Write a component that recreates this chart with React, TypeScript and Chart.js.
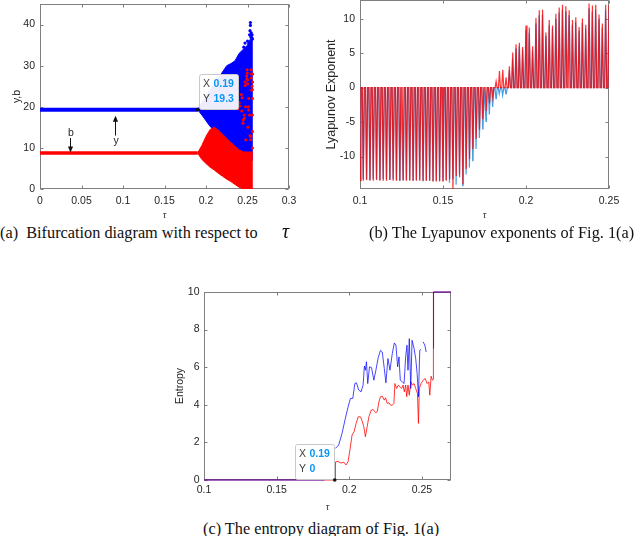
import React, { useEffect, useRef } from 'react';
import { Chart, registerables } from 'chart.js';

Chart.register(...registerables);

const SANS = "'Liberation Sans', Arial, Helvetica, sans-serif";
const SERIF = "'Liberation Serif', 'Times New Roman', serif";
const INK = '#262626';
const FRAME = '#7f7f7f';

// ---------------- (a) Bifurcation diagram ----------------
const bifTicksX = [0, 0.05, 0.1, 0.15, 0.2, 0.25, 0.3];
const bifTicksY = [0, 10, 20, 30, 40];
const bifSteadyTau = [0, 0.19];
const bifSteadyY = [19.3, 19.3];
const bifSteadyB = [8.75, 8.75];
const bifBandTau = [0.19, 0.195, 0.2, 0.205, 0.21, 0.215, 0.22, 0.225, 0.23, 0.235, 0.24, 0.245, 0.25, 0.2535, 0.2565];
const bifYUpper = [19.3, 21.0, 22.5, 24.0, 25.5, 27.0, 28.5, 30.0, 30.5, 31.2, 33.0, 34.0, 35.0, 36.5, 36.0];
const bifYLower = [19.3, 18.0, 16.6, 15.2, 14.2, 13.4, 12.6, 11.8, 11.0, 10.2, 9.4, 8.2, 7.5, 7.0, 7.0];
const bifBUpper = [8.8, 10.6, 12.8, 14.5, 15.0, 14.3, 13.3, 12.3, 11.3, 10.4, 9.5, 9.0, 9.0, 9.0, 9.0];
const bifBLower = [8.7, 7.2, 6.2, 5.3, 4.6, 3.8, 3.1, 2.4, 1.8, 1.1, 0.4, 0, 0, 0, 0];
const bifYDotTau = [0.2455, 0.247, 0.248, 0.25, 0.2515, 0.2525, 0.253, 0.2535, 0.2535, 0.254, 0.2545, 0.255, 0.2555, 0.256];
const bifYDotVal = [34.5, 35.5, 33.8, 36.0, 35.5, 37.5, 38.5, 40.5, 39.8, 37.0, 38.0, 36.8, 37.5, 36.5];
const bifBDotTau = [
  0.2385, 0.24, 0.2405, 0.2425, 0.243, 0.2435, 0.2445, 0.2448, 0.246, 0.2463, 0.247, 0.2472, 0.2475, 0.248,
  0.249, 0.2492, 0.2495, 0.2497, 0.25, 0.2502, 0.2505, 0.251, 0.2513, 0.2515, 0.2525, 0.253, 0.2538, 0.254,
  0.2545, 0.2545, 0.2548, 0.255, 0.2555, 0.2558, 0.256, 0.256, 0.256, 0.256, 0.2562, 0.2562,
];
const bifBDotVal = [
  19.5, 21, 20.2, 23, 19, 22.2, 16, 16.8, 18, 17.2, 26, 25.2, 20, 12,
  27.5, 26.8, 29, 28.2, 26.5, 25.6, 15, 20, 19.2, 22, 18, 13, 12, 12.8,
  29, 27, 28, 24, 25, 24.2, 14, 18, 22, 10, 28, 26,
];
const bifNoteLabels = ['b', 'y'];
const bifNoteTau = [0.0367, 0.0905];
const bifNoteTextY = [13.6, 11.6];
const bifNoteFrom = [12.4, 13.0];
const bifNoteTo = [8.9, 17.8];

// ---------------- (b) Lyapunov exponents ----------------
const lyapTicksX = [0.1, 0.15, 0.2, 0.25];
const lyapTicksY = [-10, -5, 0, 5, 10];
const lyapTau = [
  0.100, 0.102, 0.104, 0.106, 0.108, 0.110, 0.112, 0.114, 0.116, 0.118,
  0.120, 0.122, 0.124, 0.126, 0.128, 0.130, 0.132, 0.134, 0.136, 0.138,
  0.140, 0.142, 0.144, 0.146, 0.148, 0.150, 0.152, 0.154, 0.156, 0.158,
  0.160, 0.162, 0.164, 0.166, 0.168, 0.170, 0.172, 0.174, 0.176, 0.178,
  0.180, 0.182, 0.184, 0.186, 0.188, 0.190, 0.192, 0.194, 0.196, 0.198,
  0.200, 0.202, 0.204, 0.206, 0.208, 0.210, 0.212, 0.214, 0.216, 0.218,
  0.220, 0.222, 0.224, 0.226, 0.228, 0.230, 0.232, 0.234, 0.236, 0.238,
  0.240, 0.242, 0.244, 0.246, 0.248, 0.250,
];
const lyapRed = [
  -13.5, -13.5, -13.4, -13.5, -13.5, -13.4, -13.5, -13.5, -13.5, -13.4,
  -13.5, -13.5, -13.5, -13.4, -13.5, -13.5, -13.5, -13.5, -13.5, -13.5,
  -13.5, -13.5, -13.6, -13.6, -13.6, -13.6, -13.5, -13.3, -14.9, -12.8,
  -13.0, -14.0, -11.8, -10.4, -8.9, -7.4, -6.1, -4.6, -3.4, -2.3,
  -1.4, 0.9, 2.4, 2.6, 1.5, 3.1, 5.1, 6.3, 6.5, 5.9,
  9.0, 8.7, 6.0, 10.1, 11.2, 11.3, 8.0, 9.8, 9.0, 10.7,
  11.6, 12.0, 11.8, 11.2, 9.8, 10.2, 8.8, 10.0, 9.1, 12.2,
  11.9, 12.0, 10.6, 9.3, 12.0, 11.9,
];
const lyapBlue = [
  -13.3, -13.3, -13.3, -13.3, -13.3, -13.3, -13.3, -13.3, -13.3, -13.3,
  -13.3, -13.4, -13.4, -13.4, -13.4, -13.4, -13.4, -13.4, -13.4, -13.5,
  -13.5, -13.5, -13.5, -13.5, -13.5, -13.5, -13.4, -13.8, -13.2, -14.1,
  -12.6, -14.2, -12.6, -11.6, -10.6, -8.9, -7.3, -6.0, -4.9, -3.9,
  -2.8, -1.6, -0.9, -1.1, -0.9, 2.5, 4.2, 5.6, 6.0, 5.5,
  8.3, 8.0, 5.4, 9.2, 10.5, 10.6, 7.4, 9.0, 8.6, 9.9,
  10.9, 11.3, 11.0, 10.4, 9.1, 9.5, 8.2, 9.4, 8.6, 11.4,
  11.0, 11.3, 9.9, 8.7, 11.2, 11.1,
];

// ---------------- (c) Entropy ----------------
const entTicksX = [0.1, 0.15, 0.2, 0.25];
const entTicksY = [0, 2, 4, 6, 8, 10];
const entBlueTau = [
  0.1, 0.183, 0.186, 0.1904, 0.1927, 0.195, 0.1973, 0.1992, 0.2008, 0.2024,
  0.2038, 0.2049, 0.2065, 0.2081, 0.2095, 0.2104, 0.2111, 0.2118, 0.2127, 0.2139,
  0.2153, 0.2169, 0.2183, 0.2199, 0.2215, 0.2227, 0.2241, 0.2252, 0.2266, 0.228,
  0.2296, 0.231, 0.2321, 0.2333, 0.2342, 0.2351, 0.2365, 0.2377, 0.2388, 0.2397,
  0.2404, 0.2413, 0.2423, 0.2432, 0.2446, 0.2457, 0.2467, 0.2476, 0.2485, 0.2494,
  0.25, 0.2508, 0.252, 0.2529, 0.255, 0.2579, 0.258, 0.27,
];
const entBlueVal = [
  0, 0, null, 1.68, 1.86, 2.48, 3.28, 3.9, 4.34, 4.34,
  5.13, 5.17, 4.78, 4.69, 5.05, 6.06, 5.84, 6.29, 5.13, 6.02,
  5.98, 5.31, 5.84, 6.51, 6.9, 6.81, 5.93, 5.17, 6.46, 5.84,
  6.73, 7.29, 7.17, 6.02, 6.55, 5.31, 5.22, 5.13, 6.55, 7.17,
  5.84, 7.52, 4.87, 7.43, 6.99, 6.46, 5.66, 4.43, 6.9, 6.95,
  null, 7.35, 7.17, 6.81, null, 7.0, 10, 10,
];
const entRedTau = [
  0.1, 0.1904, 0.1905, 0.1922, 0.1943, 0.1962, 0.1978, 0.1992, 0.2006, 0.2019,
  0.2033, 0.2047, 0.2061, 0.2077, 0.2088, 0.21, 0.2111, 0.2123, 0.2135, 0.2151,
  0.2164, 0.2181, 0.2192, 0.2204, 0.2215, 0.2227, 0.2241, 0.225, 0.2261, 0.2273,
  0.2284, 0.2296, 0.2307, 0.2314, 0.2326, 0.2337, 0.2349, 0.236, 0.237, 0.2379,
  0.2388, 0.2395, 0.2404, 0.2413, 0.2423, 0.2434, 0.2446, 0.2457, 0.2469, 0.2476,
  0.2482, 0.2494, 0.2508, 0.2522, 0.2536, 0.2547, 0.2554, 0.2563, 0.2572, 0.2578,
  0.2579, 0.27,
];
const entRedVal = [
  0, 0, 0.96, 0.99, 0.9, 0.95, 0.8, 0.99, 1.68, 2.39,
  2.57, 3.01, 3.36, 3.36, 3.15, 2.83, 2.3, 2.83, 3.36, 3.72,
  3.75, 3.58, 3.63, 4.16, 4.43, 4.46, 4.25, 4.37, 4.07, 4.11,
  3.98, 3.98, 4.07, 5.13, 4.87, 5.05, 4.96, 4.87, 5.05, 4.69,
  5.05, 4.43, 5.05, 4.51, 5.22, 5.05, 5.13, 4.87, 4.6, 3.01,
  4.87, 5.13, 5.31, 5.4, 5.13, 5.22, 4.51, 5.52, 5.31, 5.35,
  10, 10,
];

const pts = (xs: number[], ys: (number | null)[]) => xs.map((x, i) => ({ x, y: ys[i] }));

// -------- plugins --------
const framePlugin = {
  id: 'matFrame',
  beforeDatasetsDraw(chart: any) {
    const { ctx, chartArea: a, scales } = chart;
    const L = Math.round(a.left) + 0.5;
    const R = Math.round(a.right) - 0.5;
    const T = Math.round(a.top) + 0.5;
    const B = Math.round(a.bottom) - 0.5;
    ctx.save();
    ctx.strokeStyle = FRAME;
    ctx.lineWidth = 1;
    ctx.strokeRect(L, T, R - L, B - T);
    ctx.beginPath();
    for (const t of scales.x.ticks) {
      const px = Math.round(scales.x.getPixelForValue(t.value)) + 0.5;
      ctx.moveTo(px, B); ctx.lineTo(px, B - 3);
      ctx.moveTo(px, T); ctx.lineTo(px, T + 3);
    }
    for (const t of scales.y.ticks) {
      const py = Math.round(scales.y.getPixelForValue(t.value)) + 0.5;
      ctx.moveTo(L, py); ctx.lineTo(L + 3, py);
      ctx.moveTo(R, py); ctx.lineTo(R - 3, py);
    }
    ctx.stroke();
    ctx.restore();
  },
};

const tipPlugin = {
  id: 'dataTip',
  afterDatasetsDraw(chart: any, _a: any, opts: any) {
    if (!opts || opts.x === undefined) return;
    const { ctx, scales } = chart;
    const px = scales.x.getPixelForValue(opts.x);
    const py = scales.y.getPixelForValue(opts.y);
    const w = 39, h = 35;
    const bx = Math.round(opts.side === 'right' ? px + 1 : px - w - 0.5) + 0.5;
    const by = Math.round(py - h - 1) + 0.5;
    ctx.save();
    ctx.fillStyle = 'rgba(255,255,255,0.93)';
    ctx.strokeStyle = '#c8c8c8';
    ctx.lineWidth = 1;
    ctx.beginPath();
    ctx.roundRect(bx, by, w, h, 2);
    ctx.fill();
    ctx.stroke();
    ctx.textBaseline = 'middle';
    ctx.textAlign = 'left';
    ctx.font = `10.5px ${SANS}`;
    ctx.fillStyle = '#404040';
    ctx.fillText('X', bx + 3.5, by + 10);
    ctx.fillText('Y', bx + 3.5, by + 25);
    ctx.font = `bold 10.5px ${SANS}`;
    ctx.fillStyle = '#0a96f5';
    ctx.fillText(opts.xText, bx + 14, by + 10);
    ctx.fillText(opts.yText, bx + 14, by + 25);
    ctx.fillStyle = '#111';
    ctx.beginPath();
    ctx.arc(px, py, 1.8, 0, Math.PI * 2);
    ctx.fill();
    ctx.restore();
  },
};

const notePlugin = {
  id: 'arrowNotes',
  afterDatasetsDraw(chart: any, _a: any, opts: any) {
    if (!opts || !opts.labels) return;
    const { ctx, scales } = chart;
    ctx.save();
    ctx.strokeStyle = '#111';
    ctx.lineWidth = 1;
    ctx.font = `10.5px ${SANS}`;
    ctx.textAlign = 'center';
    ctx.textBaseline = 'middle';
    opts.labels.forEach((lab: string, i: number) => {
      const px = Math.round(scales.x.getPixelForValue(opts.tau[i])) + 0.5;
      ctx.fillStyle = INK;
      ctx.fillText(lab, px + 0.5, scales.y.getPixelForValue(opts.textY[i]));
      const y0 = scales.y.getPixelForValue(opts.from[i]);
      const y1 = scales.y.getPixelForValue(opts.to[i]);
      const dir = y1 > y0 ? 1 : -1;
      ctx.beginPath();
      ctx.moveTo(px, y0);
      ctx.lineTo(px, y1 - dir * 4);
      ctx.stroke();
      ctx.fillStyle = '#111';
      ctx.beginPath();
      ctx.moveTo(px, y1);
      ctx.lineTo(px - 2.6, y1 - dir * 6);
      ctx.lineTo(px + 2.6, y1 - dir * 6);
      ctx.closePath();
      ctx.fill();
    });
    ctx.restore();
  },
};

// -------- axes helpers --------
function xAxis(min: number, max: number, ticks: number[], height: number, pad: number) {
  return {
    type: 'linear', position: 'bottom', min, max,
    afterBuildTicks: (s: any) => { s.ticks = ticks.map((v) => ({ value: v })); },
    afterFit: (s: any) => { s.height = height; s.paddingLeft = 0; s.paddingRight = 0; },
    grid: { display: false, drawTicks: false },
    border: { display: false },
    ticks: { color: INK, font: { family: SANS, size: 10.5 }, padding: pad, maxRotation: 0, autoSkip: false, callback: (v: any) => String(v) },
    title: { display: true, text: 'τ', color: INK, font: { family: SERIF, size: 10, style: 'italic', lineHeight: 1.2 }, padding: { top: 0, bottom: 0 } },
  };
}

function yAxis(min: number, max: number, ticks: number[], width: number, pad: number, text: string, size: number, titlePad: number) {
  return {
    type: 'linear', position: 'left', min, max,
    afterBuildTicks: (s: any) => { s.ticks = ticks.map((v) => ({ value: v })); },
    afterFit: (s: any) => { s.width = width; s.paddingTop = 0; s.paddingBottom = 0; },
    grid: { display: false, drawTicks: false },
    border: { display: false },
    ticks: { color: INK, font: { family: SANS, size: 10.5 }, padding: pad, autoSkip: false, callback: (v: any) => String(v) },
    title: { display: true, text, color: INK, font: { family: SANS, size, lineHeight: 1.2 }, padding: { top: titlePad, bottom: 0 } },
  };
}

const baseOptions = (padding: any, scales: any, plugins: any) => ({
  responsive: false,
  animation: false,
  devicePixelRatio: 1,
  events: [],
  layout: { padding },
  scales,
  elements: { point: { radius: 0 }, line: { tension: 0 } },
  plugins: { legend: { display: false }, tooltip: { enabled: false }, ...plugins },
});

// -------- chart configs --------
function bifConfig(): any {
  const BLUE = '#0000ff';
  const RED = '#ff0000';
  return {
    type: 'line',
    data: {
      datasets: [
        { data: pts(bifSteadyTau, bifSteadyY), borderColor: BLUE, borderWidth: 4, order: 0 },
        { data: pts(bifSteadyTau, bifSteadyB), borderColor: RED, borderWidth: 3.5, order: 0 },
        { data: pts(bifBandTau, bifYUpper), borderColor: BLUE, borderWidth: 1, fill: false, order: 3 },
        { data: pts(bifBandTau, bifYLower), borderColor: BLUE, borderWidth: 1, fill: '-1', backgroundColor: BLUE, order: 3 },
        { data: pts(bifBandTau, bifBUpper), borderColor: RED, borderWidth: 1, fill: false, order: 2 },
        { data: pts(bifBandTau, bifBLower), borderColor: RED, borderWidth: 1, fill: '-1', backgroundColor: RED, order: 2 },
        { data: pts(bifYDotTau, bifYDotVal), showLine: false, pointRadius: 1.6, pointBorderWidth: 0, pointBackgroundColor: BLUE, order: 1 },
        { data: pts(bifBDotTau, bifBDotVal), showLine: false, pointRadius: 1.5, pointBorderWidth: 0, pointBackgroundColor: RED, order: 1 },
      ],
    },
    options: baseOptions(
      { left: 0, top: 0, right: 11, bottom: 0 },
      { x: xAxis(0, 0.3, bifTicksX, 32, 6), y: yAxis(0, 45, bifTicksY, 40, 5, 'y,b', 10.5, 10.7) },
      {
        dataTip: { x: 0.19, y: 19.3, xText: '0.19', yText: '19.3', side: 'right' },
        arrowNotes: { labels: bifNoteLabels, tau: bifNoteTau, textY: bifNoteTextY, from: bifNoteFrom, to: bifNoteTo },
      }
    ),
    plugins: [framePlugin, tipPlugin, notePlugin],
  };
}

function lyapConfig(): any {
  const red = lyapTau.flatMap((t, i) => [{ x: t - 0.0006, y: 0 }, { x: t, y: lyapRed[i] }, { x: t + 0.0006, y: 0 }]);
  const blue = lyapTau.flatMap((t, i) => [{ x: t - 0.0007, y: 0 }, { x: t - 0.0001, y: lyapBlue[i] }, { x: t + 0.0001, y: lyapBlue[i] }, { x: t + 0.0007, y: 0 }]);
  return {
    type: 'line',
    data: {
      datasets: [
        { data: red, borderColor: 'rgba(255,0,0,0.8)', borderWidth: 1.2, order: 1 },
        { data: blue, borderColor: 'rgba(40,140,220,0.85)', borderWidth: 1.2, order: 2 },
      ],
    },
    options: baseOptions(
      { left: 0, top: 0, right: 33, bottom: 0 },
      { x: xAxis(0.1, 0.25, lyapTicksX, 32, 6), y: yAxis(-14.7, 12.7, lyapTicksY, 40, 5, 'Lyapunov Exponent', 12.5, 4.5) },
      {}
    ),
    plugins: [framePlugin],
  };
}

function entConfig(): any {
  return {
    type: 'line',
    data: {
      datasets: [
        { data: pts(entBlueTau, entBlueVal), borderColor: 'rgba(0,0,255,0.72)', borderWidth: 1, spanGaps: false, clip: false, order: 1 },
        { data: pts(entRedTau, entRedVal), borderColor: 'rgba(255,0,0,0.78)', borderWidth: 1, spanGaps: false, clip: false, order: 2 },
      ],
    },
    options: baseOptions(
      { left: 0, top: 22, right: 19, bottom: 0 },
      { x: xAxis(0.1, 0.27, entTicksX, 33, 4), y: yAxis(0, 10, entTicksY, 44, 4.5, 'Entropy', 10.5, 13.7) },
      { dataTip: { x: 0.19, y: 0, xText: '0.19', yText: '0', side: 'left' } }
    ),
    plugins: [framePlugin, tipPlugin],
  };
}

function ChartBox({ left, top, width, height, make }: { left: number; top: number; width: number; height: number; make: () => any }) {
  const ref = useRef<HTMLCanvasElement>(null);
  useEffect(() => {
    if (!ref.current) return;
    const chart = new Chart(ref.current, make());
    return () => chart.destroy();
  }, []);
  return <canvas ref={ref} width={width} height={height} style={{ position: 'absolute', left, top, width, height }} />;
}

const capStyle: React.CSSProperties = {
  position: 'absolute',
  fontFamily: SERIF,
  fontSize: 16.3,
  lineHeight: '16px',
  whiteSpace: 'pre',
  color: '#111',
};

export default function App() {
  return (
    <div style={{ position: 'absolute', left: 0, top: 0, width: 642, height: 536, background: '#fff', overflow: 'hidden' }}>
      <ChartBox left={0} top={0} width={300} height={221} make={bifConfig} />
      <ChartBox left={320} top={0} width={322} height={221} make={lyapConfig} />
      <ChartBox left={160} top={270} width={310} height={243} make={entConfig} />
      <div style={{ ...capStyle, left: 0, top: 225 }}>(a)  Bifurcation diagram with respect to</div>
      <div style={{ ...capStyle, left: 282, top: 223, fontSize: 20, fontStyle: 'italic' }}>τ</div>
      <div style={{ ...capStyle, left: 369, top: 225 }}>(b) The Lyapunov exponents of Fig. 1(a)</div>
      <div style={{ ...capStyle, left: 203, top: 521 }}>(c) The entropy diagram of Fig. 1(a)</div>
    </div>
  );
}
